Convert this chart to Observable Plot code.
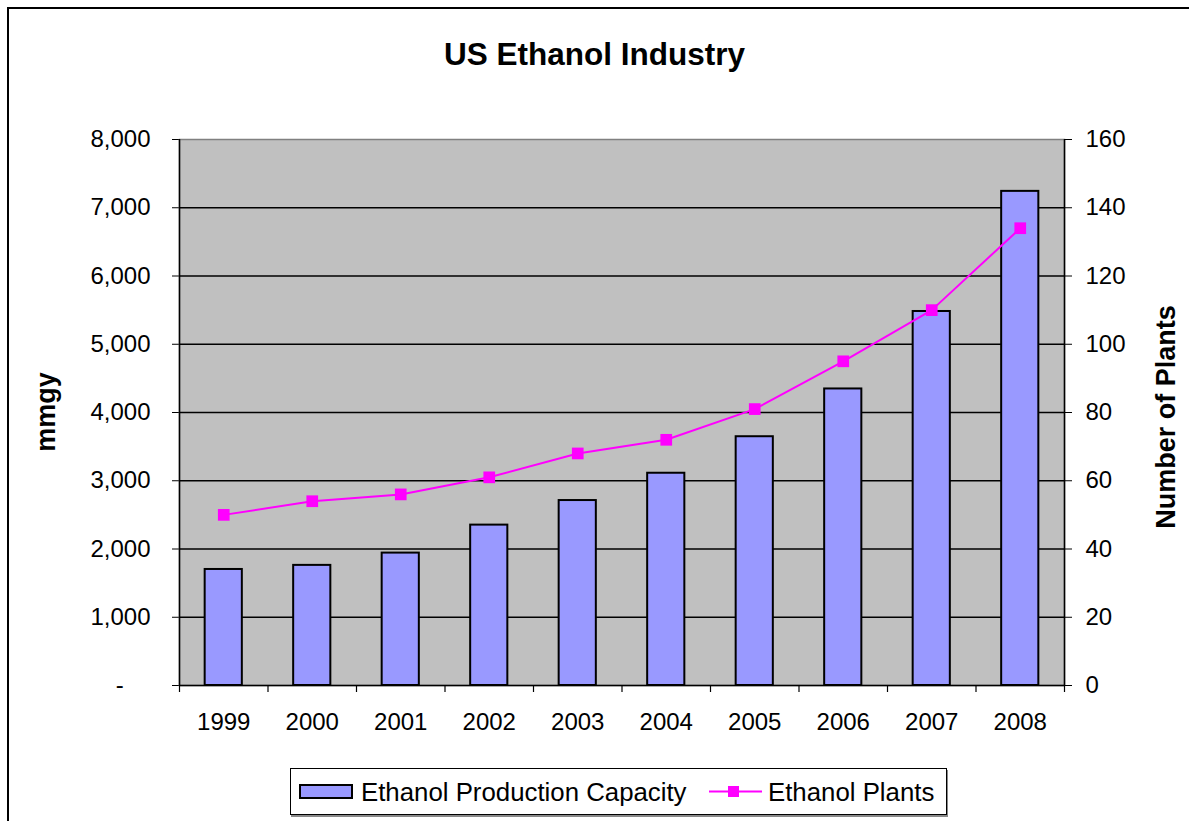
<!DOCTYPE html>
<html>
<head>
<meta charset="utf-8">
<script src="https://cdn.jsdelivr.net/npm/d3@7"></script>
<script src="https://cdn.jsdelivr.net/npm/@observablehq/plot@0.6"></script>
<style>
  html, body { margin: 0; padding: 0; background: #fff; }
  body { font-family: "Liberation Sans", Arial, sans-serif; }
  #wrap { position: relative; width: 1189px; height: 821px; overflow: hidden; }
  #wrap svg { position: absolute; left: 0; top: 0; }
  .frameBorder { position: absolute; left: 7px; top: 7px; width: 1300px; height: 1000px; border: 2px solid #000; box-sizing: border-box; }
  .title { position: absolute; left: 0; width: 1189px; top: 34px; text-align: center; font-weight: bold; font-size: 31.5px; line-height: 40px; }
  .ytitle { position: absolute; font-weight: bold; font-size: 27px; line-height: 30px; white-space: nowrap; transform: translate(-50%, -50%) rotate(-90deg); }
  .legend { position: absolute; left: 290px; top: 768px; width: 657px; height: 47px; border: 1px solid #000; box-sizing: border-box; box-shadow: 1px 2px 0 #888; background: #fff; font-size: 25.8px; }
  .legend .lt { position: absolute; top: 8px; line-height: 30px; white-space: nowrap; }
</style>
</head>
<body>
<div id="wrap">
  <div class="frameBorder"></div>
</div>
<script>
const years = ["1999", "2000", "2001", "2002", "2003", "2004", "2005", "2006", "2007", "2008"];
const capacity = [1700, 1760, 1940, 2350, 2710, 3110, 3645, 4345, 5480, 7240];
const plants = [50, 54, 56, 61, 68, 72, 81, 95, 110, 134];
const leftTicks = [0, 1000, 2000, 3000, 4000, 5000, 6000, 7000, 8000];
const rightTicks = [0, 20, 40, 60, 80, 100, 120, 140, 160];
const gridValues = [1000, 2000, 3000, 4000, 5000, 6000, 7000];
const titleText = "US Ethanol Industry";
const leftLabel = "mmgy";
const rightLabel = "Number of Plants";
const seriesNames = ["Ethanol Production Capacity", "Ethanol Plants"];

const data = years.map((y, i) => ({year: y, capacity: capacity[i], plants: plants[i]}));

const W = 1189, H = 821;
const M = {left: 179, right: 125, top: 139, bottom: 136};
const step = (W - M.left - M.right) / years.length;
const plotH = H - M.top - M.bottom;
const xOpts = {domain: years, paddingInner: 0.58, paddingOuter: 0.29, round: false};
const fontStyle = {fontFamily: "'Liberation Sans', Arial, sans-serif", fontSize: "24px", color: "#000", background: "none", overflow: "visible"};

const fmt = d3.format(",");
const base = Plot.plot({
  width: W, height: H,
  marginLeft: M.left, marginRight: M.right, marginTop: M.top, marginBottom: M.bottom,
  style: fontStyle,
  x: {...xOpts, label: null, tickSize: 0, tickPadding: 27},
  y: {domain: [0, 8000], ticks: leftTicks, label: null, tickSize: 7, tickPadding: 22,
      tickFormat: d => d === 0 ? "-\u00a0\u00a0\u00a0\u00a0" : fmt(d)},
  marks: [
    Plot.frame({fill: "#c0c0c0", stroke: "#808080", strokeWidth: 1.5}),
    Plot.ruleY(gridValues, {stroke: "#000", strokeWidth: 1.3}),
    Plot.barY(data, {x: "year", y: "capacity", fill: "#9999ff", stroke: "#000", strokeWidth: 2}),
    Plot.ruleY([0], {stroke: "#000", strokeWidth: 1.5}),
    Plot.ruleX(years.slice(0, 1), {x: d => d, dx: -step / 2, stroke: "#000", strokeWidth: 1.5}),
    Plot.ruleX(years.slice(-1), {x: d => d, dx: step / 2, stroke: "#000", strokeWidth: 1.5}),
    Plot.ruleX(years, {x: d => d, dx: -step / 2, insetTop: plotH, insetBottom: -7, stroke: "#000", strokeWidth: 1.2}),
    Plot.ruleX(years.slice(-1), {x: d => d, dx: step / 2, insetTop: plotH, insetBottom: -7, stroke: "#000", strokeWidth: 1.2})
  ]
});

const overlay = Plot.plot({
  width: W, height: H,
  marginLeft: M.left, marginRight: M.right, marginTop: M.top, marginBottom: M.bottom,
  style: fontStyle,
  x: {...xOpts, axis: null},
  y: {domain: [0, 160], ticks: rightTicks, axis: "right", label: null, tickSize: 7, tickPadding: 14},
  marks: [
    Plot.line(data, {x: "year", y: "plants", stroke: "#ff00ff", strokeWidth: 2}),
    Plot.dot(data, {x: "year", y: "plants", symbol: "square", r: 6.6, fill: "#ff00ff", stroke: "none"})
  ]
});

const wrap = document.getElementById("wrap");
wrap.appendChild(base);
wrap.appendChild(overlay);

function addDiv(cls, text, css) {
  const d = document.createElement("div");
  d.className = cls;
  d.textContent = text;
  Object.assign(d.style, css || {});
  wrap.appendChild(d);
  return d;
}
addDiv("title", titleText);
addDiv("ytitle", leftLabel, {left: "46px", top: "412px"});
addDiv("ytitle", rightLabel, {left: "1166px", top: "417px"});

const legend = document.createElement("div");
legend.className = "legend";
legend.innerHTML = `
  <svg width="655" height="45" style="position:absolute;left:0;top:0">
    <rect x="9" y="16" width="52" height="13" fill="#9999ff" stroke="#000" stroke-width="2"></rect>
    <line x1="418" x2="471" y1="22.5" y2="22.5" stroke="#ff00ff" stroke-width="2"></line>
    <rect x="437" y="17" width="11" height="11" fill="#ff00ff"></rect>
  </svg>`;
const t1 = document.createElement("div"); t1.className = "lt"; t1.style.left = "70px"; t1.textContent = seriesNames[0];
const t2 = document.createElement("div"); t2.className = "lt"; t2.style.left = "477px"; t2.textContent = seriesNames[1];
legend.appendChild(t1); legend.appendChild(t2);
wrap.appendChild(legend);
</script>
</body>
</html>
